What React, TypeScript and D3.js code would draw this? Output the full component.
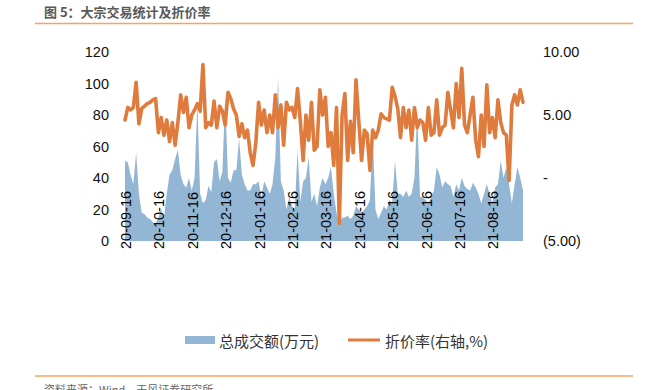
import React from "react";
import * as d3 from "d3";

const title = "图 5：大宗交易统计及折价率";
const source = "资料来源：Wind，天风证券研究所";
const seriesNames = ["总成交额(万元)", "折价率(右轴,%)"];

const tickLabels = [
  "20-09-16", "20-10-16", "20-11-16", "20-12-16", "21-01-16", "21-02-16",
  "21-03-16", "21-04-16", "21-05-16", "21-06-16", "21-07-16", "21-08-16",
];
const pointsPerLabel = 12;

const leftTicks = [0, 20, 40, 60, 80, 100, 120];
const rightTicks = [-5, 0, 5, 10];

// 总成交额(万元)
const volume = [
  51, 50, 42, 36, 56, 30, 18, 17, 15, 14, 12, 11,
  15, 20, 15, 30, 42, 45, 52, 58, 42, 36, 34, 40,
  32, 40, 88, 30, 24, 26, 35, 31, 50, 52, 38, 44,
  92, 40, 37, 45, 45, 65, 42, 36, 32, 32, 36, 36,
  38, 28, 38, 34, 30, 36, 53, 104, 38, 32, 20, 28,
  22, 20, 58, 25, 38, 40, 53, 25, 30, 22, 34, 40,
  36, 40, 47, 30, 18, 11, 15, 15, 16, 14, 16, 22,
  20, 18, 20, 22, 26, 66, 20, 14, 18, 22, 20, 26,
  24, 51, 30, 30, 28, 32, 28, 30, 40, 83, 28, 28,
  26, 24, 28, 32, 47, 42, 34, 38, 36, 35, 28, 36,
  32, 40, 35, 33, 32, 37, 34, 30, 24, 30, 36, 30,
  24, 34, 36, 51, 40, 47, 36, 24, 36, 47, 40, 32,
];

// 折价率(右轴,%)
const discount = [
  4.6, 5.6, 5.4, 5.6, 7.6, 4.3, 5.5, 5.7, 5.9, 6.0, 6.2, 6.3,
  3.6, 4.8, 3.4, 4.6, 2.9, 4.4, 2.6, 4.4, 6.6, 5.2, 6.4, 4.0,
  5.0, 5.4, 5.9, 5.3, 9.0, 4.0, 4.4, 4.2, 6.1, 4.0, 5.7, 5.3,
  4.2, 6.8, 6.3, 5.5, 5.0, 3.3, 4.3, 3.2, 3.8, 2.0, 1.0, 2.8,
  6.0, 4.2, 5.4, 3.6, 5.0, 3.6, 6.6, 4.0, 5.8, 2.6, 6.0, 5.4,
  5.6, 4.8, 7.1, 4.5, 1.4, 5.0, 3.0, 6.0, 2.2, 2.5, 7.0, 5.0,
  6.4, 2.5, 3.6, 1.0, 5.6, -3.6, 5.0, 6.7, 1.4, 4.5, 2.0, 7.8,
  4.5, 1.4, 3.8, 3.5, 0.6, 3.8, 3.2, 3.8, 5.1, 4.8, 4.7, 4.6,
  7.2, 6.5, 5.5, 3.2, 5.6, 4.0, 5.4, 3.0, 5.6, 4.0, 4.6, 4.4,
  3.0, 5.6, 3.4, 3.6, 6.2, 3.4, 4.0, 4.2, 6.8, 5.4, 4.0, 7.5,
  4.8, 8.7, 4.2, 3.6, 5.0, 6.4, 3.0, 1.7, 5.0, 2.5, 7.4, 3.6,
  4.8, 3.2, 6.2, 4.4, 3.6, 3.4, -0.2, 5.8, 6.6, 5.8, 7.0, 6.0,
];

const W = 652;
const H = 390;
const plot = { left: 125, right: 523, top: 52, bottom: 241 };

const AREA_COLOR = "#93b6d4";
const LINE_COLOR = "#df7b3d";
const RULE_COLOR = "#f5a55f";
const AXIS_FONT = "'Liberation Sans', Arial, sans-serif";
const CJK_FONT = "'Noto Sans CJK SC', 'Noto Sans', sans-serif";

export default function App() {
  const n = volume.length;
  const x = d3.scaleLinear().domain([0, n - 1]).range([plot.left, plot.right]);
  const yL = d3.scaleLinear().domain([0, 120]).range([plot.bottom, plot.top]);
  const yR = d3.scaleLinear().domain([-5, 10]).range([plot.bottom, plot.top]);

  const areaPath = d3
    .area<number>()
    .x((_, i) => x(i))
    .y0(yL(0))
    .y1((d) => yL(d))(volume) as string;

  const linePath = d3
    .line<number>()
    .x((_, i) => x(i))
    .y((d) => yR(d))(discount) as string;

  const rightFmt = (v: number) =>
    v === 0 ? "-" : v < 0 ? `(${d3.format(".2f")(-v)})` : d3.format(".2f")(v);

  return (
    <svg
      width={W}
      height={H}
      style={{ position: "absolute", left: 0, top: 0, background: "#fff" }}
    >
      <text
        x={44}
        y={17}
        fontFamily={CJK_FONT}
        fontSize={13}
        fontWeight="bold"
        fill="#595959"
      >
        {title}
      </text>
      <line x1={35} x2={633} y1={23.5} y2={23.5} stroke={RULE_COLOR} strokeWidth={1.5} />

      {/* left axis */}
      {leftTicks.map((t) => (
        <text
          key={"l" + t}
          x={109}
          y={yL(t)}
          textAnchor="end"
          dominantBaseline="central"
          fontFamily={AXIS_FONT}
          fontSize={14.5}
          fill="#111"
        >
          {t}
        </text>
      ))}
      {/* right axis */}
      {rightTicks.map((t) => (
        <text
          key={"r" + t}
          x={543}
          y={yR(t)}
          textAnchor="start"
          dominantBaseline="central"
          fontFamily={AXIS_FONT}
          fontSize={14.5}
          fill="#111"
        >
          {rightFmt(t)}
        </text>
      ))}

      <path d={areaPath} fill={AREA_COLOR} stroke="none" />

      {tickLabels.map((lab, i) => {
        const px = x(i * pointsPerLabel) + 1;
        const py = 249;
        return (
          <text
            key={lab}
            transform={`translate(${px},${py}) rotate(-90)`}
            textAnchor="start"
            dominantBaseline="central"
            fontFamily={AXIS_FONT}
            fontSize={14.5}
            fill="#000"
          >
            {lab}
          </text>
        );
      })}

      <path
        d={linePath}
        fill="none"
        stroke={LINE_COLOR}
        strokeWidth={3.6}
        strokeLinejoin="round"
        strokeLinecap="round"
      />

      {/* legend */}
      <rect x={185} y={336} width={30} height={8} fill={AREA_COLOR} />
      <text
        x={219}
        y={340}
        dominantBaseline="central"
        fontFamily={CJK_FONT}
        fontSize={15}
        fill="#333"
      >
        {seriesNames[0]}
      </text>
      <line x1={348} x2={380} y1={340} y2={340} stroke={LINE_COLOR} strokeWidth={3} />
      <text
        x={385}
        y={340}
        dominantBaseline="central"
        fontFamily={CJK_FONT}
        fontSize={15}
        fill="#333"
      >
        {seriesNames[1]}
      </text>

      <line x1={35} x2={633} y1={376} y2={376} stroke={RULE_COLOR} strokeWidth={1.5} />
      <text x={44} y={394} fontFamily={CJK_FONT} fontSize={11} fill="#666">
        {source}
      </text>
    </svg>
  );
}
